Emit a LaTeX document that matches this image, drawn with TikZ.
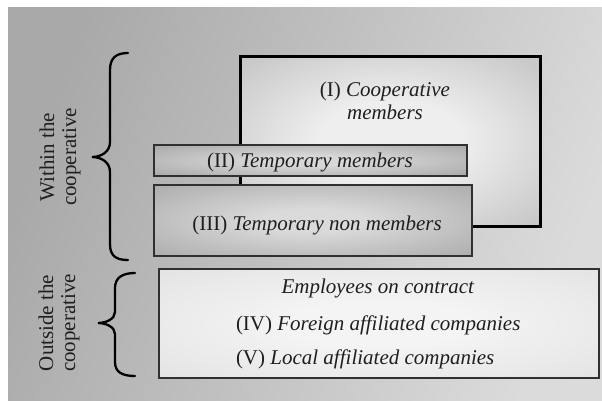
\documentclass[tikz,border=0pt]{standalone}
\usepackage{fontspec}
\setmainfont{Liberation Serif}
\definecolor{bgA}{HTML}{A9A9A9}
\definecolor{bgB}{HTML}{DBDBDB}
\definecolor{oneIn}{HTML}{EEEEEE}
\definecolor{oneOut}{HTML}{A8A8A8}
\definecolor{twoIn}{HTML}{D8D8D8}
\definecolor{twoOut}{HTML}{8E8E8E}
\definecolor{thrIn}{HTML}{DADADA}
\definecolor{thrOut}{HTML}{949494}
\definecolor{outIn}{HTML}{F4F4F4}
\definecolor{outOut}{HTML}{DADADA}
\definecolor{edgegray}{HTML}{303030}
\pgfdeclareradialshading{shOne}{\pgfpoint{0bp}{0bp}}{color(0bp)=(oneIn); color(12bp)=(oneIn); color(52bp)=(oneOut); color(75bp)=(oneOut)}
\pgfdeclareradialshading{shTwo}{\pgfpoint{0bp}{0bp}}{color(0bp)=(twoIn); color(8bp)=(twoIn); color(50bp)=(twoOut); color(75bp)=(twoOut)}
\pgfdeclareradialshading{shThr}{\pgfpoint{0bp}{0bp}}{color(0bp)=(thrIn); color(8bp)=(thrIn); color(50bp)=(thrOut); color(75bp)=(thrOut)}
\pgfdeclareradialshading{shOut}{\pgfpoint{0bp}{0bp}}{color(0bp)=(outIn); color(10bp)=(outIn); color(50bp)=(outOut); color(75bp)=(outOut)}
\begin{document}
\begin{tikzpicture}[x=1pt,y=-1pt,
  font=\fontsize{21}{23}\selectfont,
  panel/.style={rectangle, inner sep=0pt, outer sep=0pt},
  txt/.style={inner sep=0pt, outer sep=0pt, text=black!88},
  bracepath/.style={draw=black, line width=2.3pt, line cap=round}]
\useasboundingbox (0,0) rectangle (602,401);
% background
\shade[left color=bgA, right color=bgB, shading angle=70] (8,8) rectangle (602,401);
% boxes
\node[panel, shading=shOne, draw=black, line width=3pt, minimum width=300pt, minimum height=169pt] (one) at (390.5,141.5) {};
\node[panel, shading=shTwo, draw=edgegray, line width=1.3pt, minimum width=313pt, minimum height=31pt] (two) at (310.5,160.5) {};
\node[panel, shading=shThr, draw=edgegray, line width=1.3pt, minimum width=318pt, minimum height=71pt] (thr) at (313,220.5) {};
\node[panel, shading=shOut, draw=edgegray, line width=1.4pt, minimum width=440pt, minimum height=109pt] (out) at (379,323.5) {};
% texts
\node[txt, align=center, anchor=base] (tOne) at (385,120) {(I) \textit{Cooperative}\\\textit{members}};
\node[txt, anchor=base] (tTwo) at (310,167) {(II) \textit{Temporary members}};
\node[txt, anchor=base] (tThr) at (317,230) {(III) \textit{Temporary non members}};
\node[txt, anchor=base] (tEmp) at (378,293) {\textit{Employees on contract}};
\node[txt, anchor=base west] (tFor) at (236,330) {(IV) \textit{Foreign affiliated companies}};
\node[txt, anchor=base west] (tLoc) at (236,364) {(V) \textit{Local affiliated companies}};
% side labels
\node[txt, align=center, rotate=90, font=\fontsize{21}{22}\selectfont] (within) at (60,157) {Within the\\cooperative};
\node[txt, align=center, rotate=90, font=\fontsize{21}{22}\selectfont] (outside) at (59,323) {Outside the\\cooperative};
% braces
\draw[bracepath] (128,53) .. controls (116,53) and (110,58) .. (110,70) -- (110,142) .. controls (110,152) and (101,157) .. (92,157) .. controls (101,157) and (110,162) .. (110,172) -- (110,244) .. controls (110,256) and (116,260) .. (128,260);
\draw[bracepath] (135,273) .. controls (122,273) and (115,278) .. (115,288) -- (115,312) .. controls (115,319) and (106,323) .. (98,323) .. controls (106,323) and (115,327) .. (115,334) -- (115,362) .. controls (115,372) and (122,376) .. (135,376);
\end{tikzpicture}
\end{document}
